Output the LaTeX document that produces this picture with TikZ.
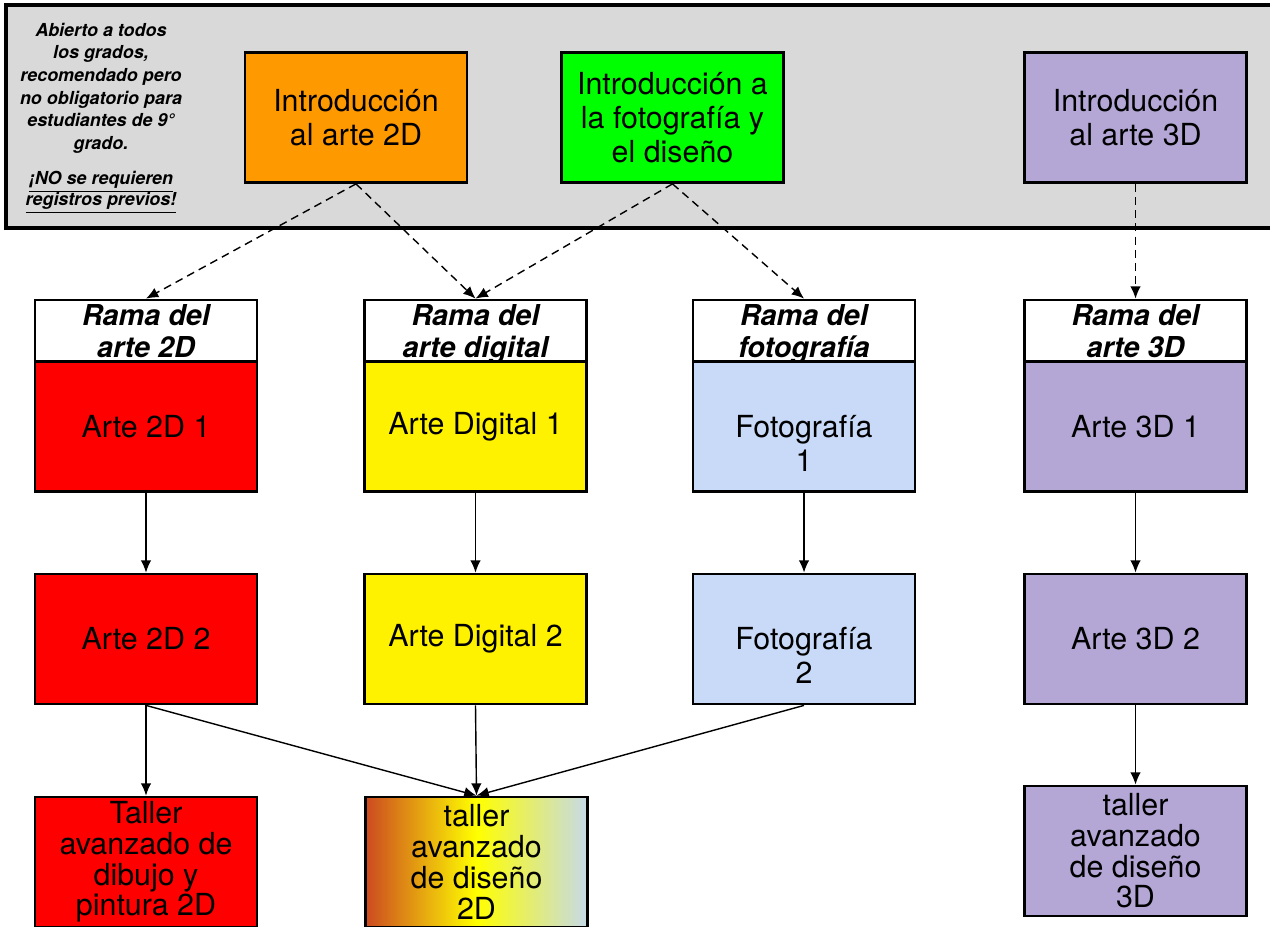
\documentclass[tikz,border=0pt]{standalone}
\usepackage{fontspec}
\setmainfont{TeX Gyre Heros}
\usetikzlibrary{arrows.meta}
\definecolor{banner}{HTML}{D9D9D9}
\definecolor{orange2d}{HTML}{FF9900}
\definecolor{greenfoto}{HTML}{00FF00}
\definecolor{purple3d}{HTML}{B4A7D6}
\definecolor{bluefoto}{HTML}{C9DAF8}
\definecolor{rust}{HTML}{CC4A20}
\definecolor{paleblue}{HTML}{C6DAE8}
\begin{document}
\begin{tikzpicture}[x=0.02cm,y=-0.02cm,
		box/.style={draw,line width=1.6pt,minimum width=4.44cm,minimum height=2.6cm,inner sep=2pt,align=center,font=\fontsize{17.3}{19.4}\selectfont},
		tallbox/.style={box,font=\fontsize{17.3}{17.5}\selectfont},
		head/.style={draw,fill=white,line width=1.6pt,minimum width=4.44cm,minimum height=1.24cm,inner sep=1pt,align=center,font=\fontsize{16.4}{18.6}\selectfont\bfseries\itshape},
		link/.style={-{Latex[length=7pt,width=6pt]},line width=0.8pt},
		dlink/.style={link,dashed,dash pattern=on 4.5pt off 3pt}]
	\clip (0,0) rectangle (1270,926);
	\useasboundingbox (0,0) rectangle (1270,926);
	% banner
	\draw[fill=banner,line width=2.8pt] (6,5) rectangle (1300,228);
	\node[align=center,font=\fontsize{10.2}{12.9}\selectfont\bfseries\itshape] (note) at (101,118)
		{Abierto a todos\\los grados,\\recomendado pero\\no obligatorio para\\estudiantes de 9°\\grado.\\[7pt]
		\underline{¡NO se requieren}\\[-1pt]\underline{registros previos!}};
	\node[box,fill=orange2d] (i2d) at (356,117.5) {Introducción\\al arte 2D};
	\node[box,fill=greenfoto] (ifoto) at (672.5,117.5) {Introducción a\\la fotografía y\\el diseño};
	\node[box,fill=purple3d] (i3d) at (1135.5,117.5) {Introducción\\al arte 3D};
	% branch headers
	\node[head] (h1) at (146,331) {Rama del\\\smash{arte 2D}};
	\node[head] (h2) at (475.5,331) {Rama del\\\smash{arte digital}};
	\node[head] (h3) at (804,331) {Rama del\\\smash{fotografía}};
	\node[head] (h4) at (1135.5,331) {Rama del\\\smash{arte 3D}};
	% first year
	\node[box,fill=red] (a1) at (146,426.5) {Arte 2D 1};
	\node[box,fill=yellow] (d1) at (475.5,426.5) {Arte Digital 1};
	\node[box,fill=bluefoto] (f1) at (804,426.5) {\phantom{1}\\Fotografía\\1};
	\node[box,fill=purple3d] (t1) at (1135.5,426.5) {Arte 3D 1};
	% second year
	\node[box,fill=red] (a2) at (146,639) {Arte 2D 2};
	\node[box,fill=yellow] (d2) at (475.5,639) {Arte Digital 2};
	\node[box,fill=bluefoto] (f2) at (804,639) {\phantom{2}\\Fotografía\\2};
	\node[box,fill=purple3d] (t2) at (1135.5,639) {Arte 3D 2};
	% advanced
	\node[tallbox,fill=red] (ta) at (146,862) {Taller\\avanzado de\\dibujo y\\pintura 2D};
	\node[tallbox,left color=rust,right color=paleblue,middle color=yellow] (td) at (476.5,862) {taller\\avanzado\\de diseño\\2D};
	\node[tallbox,fill=purple3d] (t3) at (1135.5,851) {taller\\avanzado\\de diseño\\3D};
	% connectors
	\draw[dlink] (i2d.south) -- (h1.north);
	\draw[dlink] (i2d.south) -- (h2.north);
	\draw[dlink] (ifoto.south) -- (h2.north);
	\draw[dlink] (ifoto.south) -- (h3.north);
	\draw[dlink] (i3d.south) -- (h4.north);
	\foreach \x/\y in {a1/a2,d1/d2,f1/f2,t1/t2,a2/ta,d2/td,t2/t3}
		\draw[link] (\x.south) -- (\y.north);
	\draw[link] (a2.south) -- (td.north);
	\draw[link] (f2.south) -- (td.north);
\end{tikzpicture}
\end{document}
